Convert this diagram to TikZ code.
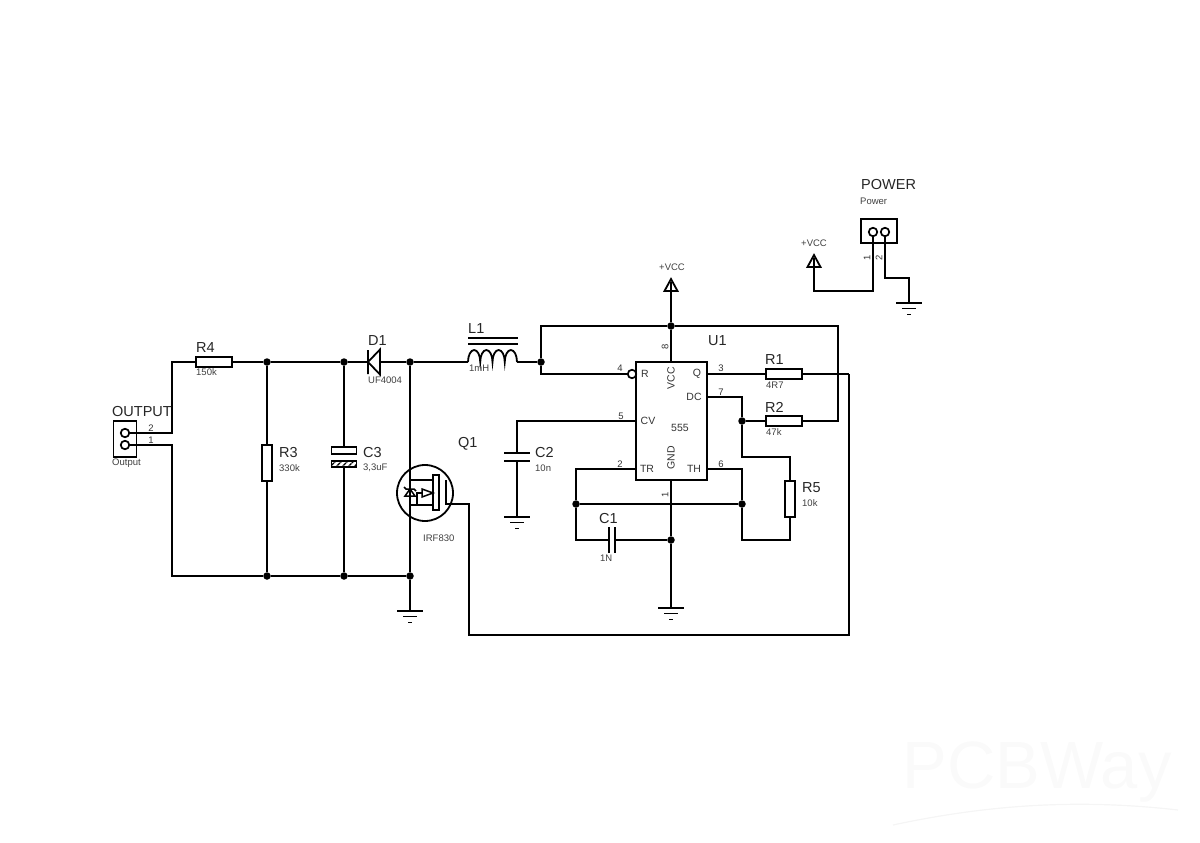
\documentclass[tikz,border=0pt]{standalone}
\usepackage{fontspec}
\setmainfont{Liberation Sans}
\usetikzlibrary{patterns.meta}
\tikzset{
    wire/.style={draw,line width=1.8pt},
    res/.style={draw,line width=1.8pt,fill=white,inner sep=0pt,minimum width=36pt,minimum height=10pt},
    resv/.style={draw,line width=1.8pt,fill=white,inner sep=0pt,minimum width=10pt,minimum height=36pt},
    dot/.style={circle,fill=black,inner sep=0pt,minimum size=7.5pt},
    pin/.style={circle,draw,line width=1.7pt,fill=white,inner sep=0pt,minimum size=8.5pt},
    big/.style={anchor=west,inner sep=0pt,font=\fontsize{14.5}{15}\selectfont,text=black!85},
    small/.style={anchor=west,inner sep=0pt,font=\fontsize{9.5}{10}\selectfont,text=black!75},
    num/.style={inner sep=0pt,font=\fontsize{9.5}{10}\selectfont,text=black!80},
    chip/.style={inner sep=0pt,font=\fontsize{10.5}{11}\selectfont,text=black!80},
}
\newcommand{\gndsym}[1]{%
    \draw [wire] (#1) +(-13,0) -- +(13,0) +(-7,5.5) -- +(7,5.5) +(-2,11.5) -- +(2,11.5);}
\newcommand{\vccsym}[1]{%
    \draw [wire,line join=miter] (#1) +(-6.5,0) -- +(0,-12) -- +(6.5,0) -- cycle (#1) -- +(0,-9);}
\begin{document}
\begin{tikzpicture}[x=1pt,y=-1pt]
\useasboundingbox (0,0) rectangle (1200,843);
% watermark
\path (1037,772) node [inner sep=0pt,font=\fontsize{67}{67}\selectfont,text=black!2] (mark) {PCBWay};
\draw [black!4,line width=1.2pt] (893,825) .. controls (1000,802) and (1090,800) .. (1178,810);
% output side
\path
    (125,439) node [draw,line width=1.8pt,minimum width=23pt,minimum height=36pt,inner sep=0pt] (outbox) {}
    (125,433) node [pin] (out2) {}
    (125,445) node [pin] (out1) {}
    (214,362) node [res] (r4) {}
    (267,463) node [resv] (r3) {}
    (267,362) node [dot] (j1) {}
    (344,362) node [dot] (j2) {}
    (267,576) node [dot] (j3) {}
    (344,576) node [dot] (j4) {}
    (410,362) node [dot] (j5) {}
    (410,576) node [dot] (j6) {}
    (344,450.5) node [draw,line width=1.8pt,fill=white,inner sep=0pt,minimum width=25pt,minimum height=7pt] (c3top) {}
    (344,464) node [draw,line width=1.8pt,inner sep=0pt,minimum width=25pt,minimum height=6pt,
        pattern={Lines[angle=45,distance=4pt,line width=1.5pt]}] (c3bot) {}
    (172,433) coordinate (a1)
    (172,362) coordinate (a2)
    (172,445) coordinate (a3)
    (172,576) coordinate (a4);
\draw [wire] (out2) -- (a1) -- (a2) -- (r4);
\draw [wire] (out1) -- (a3) -- (a4) -- (j3);
\draw [wire] (r4) -- (j1);
\draw [wire] (j1) -- (j2);
\draw [wire] (j1) -- (r3);
\draw [wire] (r3) -- (j3);
\draw [wire] (j2) -- (c3top);
\draw [wire] (c3bot) -- (j4);
\draw [wire] (j3) -- (j4);
\draw [wire] (j4) -- (j6);
% diode
\path
    (368,362) coordinate (dk)
    (380,362) coordinate (da);
\draw [wire] (j2) -- (dk);
\draw [wire] (da) -- (j5);
\draw [wire,line join=miter] (dk) +(0,-12) -- +(0,12) (da) +(0,-12.5) -- +(0,12.5) -- (dk) -- cycle;
% mosfet
\path
    (425,493) node [circle,draw,line width=1.8pt,inner sep=0pt,minimum size=56pt] (q1) {}
    (436,492.5) node [draw,line width=1.8pt,fill=white,inner sep=0pt,minimum width=6pt,minimum height=35pt] (qch) {}
    (410,480) coordinate (qd)
    (410,505) coordinate (qs)
    (433,480) coordinate (qd2)
    (433,505) coordinate (qs2)
    (446,480) coordinate (qg1)
    (446,504) coordinate (qg2)
    (469,504) coordinate (b1)
    (469,635) coordinate (b2)
    (849,635) coordinate (b3)
    (849,374) coordinate (b4)
    (410,611) coordinate (gnd1);
\draw [wire] (j5) -- (j6);
\draw [wire] (j6) -- (gnd1);
\gndsym{gnd1}
\draw [wire] (qd) -- (qd2);
\draw [wire] (qs) -- (qs2);
\draw [wire] (qg1) -- (qg2) -- (b1) -- (b2) -- (b3) -- (b4);
\draw [line width=1.5pt,line join=miter] (422,489) -- (433,493) -- (422,497) -- cycle;
\draw [line width=1.5pt] (422,493) -- (417,493) -- (417,505);
\draw [line width=1.5pt,line join=miter] (404,487) -- (406,489) -- (414,489) -- (416,491)
    (410,489) -- (405,496) -- (415,496) -- cycle;
% inductor
\path
    (468,362) coordinate (l1a)
    (517,362) coordinate (l1b)
    (541,362) node [dot] (j7) {}
    (541,326) coordinate (c1)
    (541,374) coordinate (c2)
    (671,326) node [dot] (j8) {}
    (838,326) coordinate (c3)
    (838,421) coordinate (c4);
\draw [wire] (j5) -- (l1a);
\draw [wire] (l1a) arc [start angle=180,end angle=0,x radius=6.125pt,y radius=12pt]
    arc [start angle=180,end angle=0,x radius=6.125pt,y radius=12pt]
    arc [start angle=180,end angle=0,x radius=6.125pt,y radius=12pt]
    arc [start angle=180,end angle=0,x radius=6.125pt,y radius=12pt];
\draw [wire] (l1b) -- (j7);
\draw [wire] (468,338) -- (518,338) (468,344) -- (518,344);
% timer
\path
    (671.5,421) node [draw,line width=1.8pt,inner sep=0pt,minimum width=71pt,minimum height=118pt] (u1) {}
    (632,374) node [pin] (pr) {}
    (636,421) coordinate (pcv)
    (636,469) coordinate (ptr)
    (707,374) coordinate (pq)
    (707,397) coordinate (pdc)
    (707,469) coordinate (pth)
    (671,362) coordinate (pvcc)
    (671,480) coordinate (pgnd)
    (671,291) coordinate (vcc1)
    (671,608) coordinate (gnd2)
    (784,374) node [res] (r1) {}
    (784,421) node [res] (r2) {}
    (790,499) node [resv] (r5) {}
    (742,421) node [dot] (j9) {}
    (742,504) node [dot] (j10) {}
    (576,504) node [dot] (j11) {}
    (671,540) node [dot] (j12) {}
    (742,397) coordinate (d1)
    (742,457) coordinate (d2)
    (790,457) coordinate (d3)
    (790,540) coordinate (d4)
    (742,540) coordinate (d5)
    (742,469) coordinate (d6)
    (576,469) coordinate (e1)
    (576,540) coordinate (e2)
    (609,540) coordinate (c1a)
    (615,540) coordinate (c1b)
    (517,421) coordinate (f1)
    (517,453) coordinate (c2a)
    (517,461) coordinate (c2b)
    (517,517) coordinate (gnd3);
\draw [wire] (j7) -- (c1) -- (j8);
\draw [wire] (j8) -- (c3) -- (c4) -- (r2);
\draw [wire] (j7) -- (c2) -- (pr);
\draw [wire] (vcc1) -- (j8);
\draw [wire] (j8) -- (pvcc);
\vccsym{vcc1}
\draw [wire] (pq) -- (r1);
\draw [wire] (r1) -- (b4);
\draw [wire] (pdc) -- (d1) -- (j9);
\draw [wire] (j9) -- (r2);
\draw [wire] (j9) -- (d2) -- (d3) -- (r5);
\draw [wire] (r5) -- (d4) -- (d5) -- (j10);
\draw [wire] (j10) -- (d6) -- (pth);
\draw [wire] (j11) -- (j10);
\draw [wire] (ptr) -- (e1) -- (j11);
\draw [wire] (j11) -- (e2) -- (c1a);
\draw [wire] (c1b) -- (j12);
\draw [wire] (c1a) +(0,-13) -- +(0,13) (c1b) +(0,-13) -- +(0,13);
\draw [wire] (pgnd) -- (j12);
\draw [wire] (j12) -- (gnd2);
\gndsym{gnd2}
\draw [wire] (pcv) -- (f1) -- (c2a);
\draw [wire] (c2a) +(-13,0) -- +(13,0) (c2b) +(-13,0) -- +(13,0);
\draw [wire] (c2b) -- (gnd3);
\gndsym{gnd3}
% power connector
\path
    (879,231) node [draw,line width=1.8pt,inner sep=0pt,minimum width=36pt,minimum height=24pt] (pwrbox) {}
    (873,232) node [pin] (pw1) {}
    (885,232) node [pin] (pw2) {}
    (873,291) coordinate (g1)
    (814,291) coordinate (g2)
    (814,267) coordinate (vcc2)
    (885,278) coordinate (h1)
    (909,278) coordinate (h2)
    (909,303) coordinate (gnd4);
\draw [wire] (pw1) -- (g1) -- (g2) -- (vcc2);
\vccsym{vcc2}
\draw [wire] (pw2) -- (h1) -- (h2) -- (gnd4);
\gndsym{gnd4}
% labels
\path
    (112,412) node [big] (lout) {OUTPUT}
    (112,463) node [small] (lout2) {Output}
    (151,428) node [num] (n1) {2}
    (151,440) node [num] (n2) {1}
    (196,348) node [big] (lr4) {R4}
    (196,372) node [small] (vr4) {150k}
    (279,453) node [big] (lr3) {R3}
    (279,468) node [small] (vr3) {330k}
    (363,453) node [big] (lc3) {C3}
    (363,468) node [small] (vc3) {3,3uF}
    (368,341) node [big] (ld1) {D1}
    (368,380) node [small] (vd1) {UF4004}
    (468,329) node [big] (ll1) {L1}
    (469,368) node [small] (vl1) {1mH}
    (458,444) node [big] (lq1) {Q1}
    (423,538) node [small] (vq1) {IRF830}
    (535,453) node [big] (lc2) {C2}
    (535,468) node [small] (vc2) {10n}
    (708,341) node [big] (lu1) {U1}
    (599,519) node [big] (lc1) {C1}
    (600,558) node [small] (vc1) {1N}
    (765,360) node [big] (lr1) {R1}
    (766,385) node [small] (vr1) {4R7}
    (765,407) node [big] (lr2) {R2}
    (766,432) node [small] (vr2) {47k}
    (802,488) node [big] (lr5) {R5}
    (802,503) node [small] (vr5) {10k}
    (861,185) node [big] (lpw) {POWER}
    (860,201) node [small] (lpw2) {Power}
    (659,267) node [small] (lv1) {+VCC}
    (801,243) node [small] (lv2) {+VCC}
    (645,374) node [chip] (tr) {R}
    (671,378) node [chip,rotate=90] (tvcc) {VCC}
    (697,374) node [chip] (tq) {Q}
    (694,397) node [chip] (tdc) {DC}
    (648,421) node [chip] (tcv) {CV}
    (680,428) node [chip] (t555) {555}
    (647,469) node [chip] (ttr) {TR}
    (671,458) node [chip,rotate=90] (tgnd) {GND}
    (694,469) node [chip] (tth) {TH}
    (620,368) node [num] (p4) {4}
    (665,347) node [num,rotate=90] (p8) {8}
    (721,368) node [num] (p3) {3}
    (721,392) node [num] (p7) {7}
    (621,416) node [num] (p5) {5}
    (620,464) node [num] (p2) {2}
    (721,464) node [num] (p6) {6}
    (665,495) node [num,rotate=90] (p1) {1}
    (867,258) node [num,rotate=90] (pp1) {1}
    (879,258) node [num,rotate=90] (pp2) {2};
\end{tikzpicture}
\end{document}
